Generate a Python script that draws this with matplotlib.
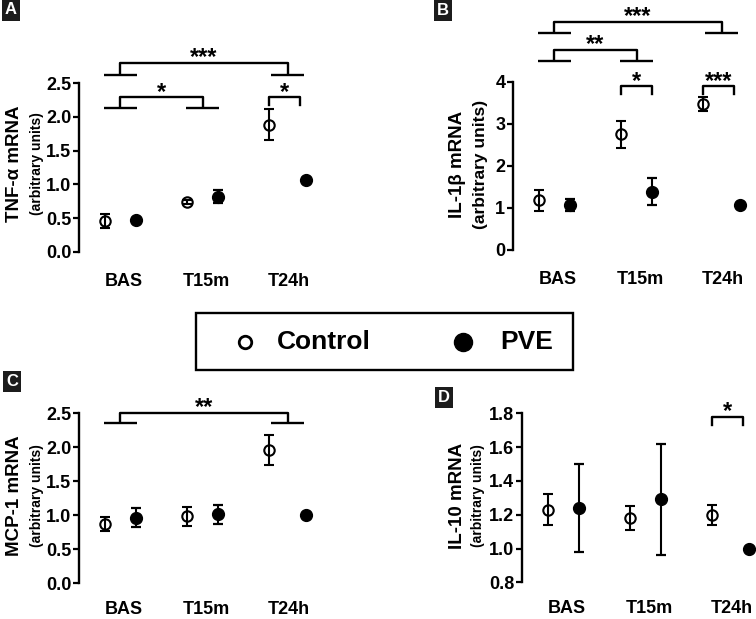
import matplotlib
matplotlib.use('Agg')
import matplotlib.pyplot as plt
from matplotlib.lines import Line2D
from matplotlib.patches import Rectangle

plt.rcParams['font.family'] = ['Liberation Sans', 'DejaVu Sans']
plt.rcParams['font.weight'] = 'bold'

W, H = 756, 619

groups = ['BAS', 'T15m', 'T24h']

# mean +/- error
tnf_ctrl = [0.46, 0.74, 1.88]
tnf_ctrl_err = [0.10, 0.03, 0.23]
tnf_pve = [0.47, 0.82, 1.07]
tnf_pve_err = [0.03, 0.09, 0.02]

il1b_ctrl = [1.18, 2.75, 3.48]
il1b_ctrl_err = [0.24, 0.31, 0.17]
il1b_pve = [1.07, 1.39, 1.08]
il1b_pve_err = [0.15, 0.33, 0.0]

mcp_ctrl = [0.87, 0.98, 1.96]
mcp_ctrl_err = [0.10, 0.14, 0.22]
mcp_pve = [0.96, 1.01, 1.00]
mcp_pve_err = [0.14, 0.14, 0.0]

il10_ctrl = [1.23, 1.18, 1.20]
il10_ctrl_err = [0.09, 0.07, 0.06]
il10_pve = [1.24, 1.29, 1.00]
il10_pve_err = [0.26, 0.33, 0.0]

CTRL_OFF = [-0.19, -0.19, -0.19]
PVE_OFF = [0.19, 0.19, 0.26]


def fx(px):
    return px / W


def fy(py):
    return 1 - py / H


def make_axes(fig, left, y0, ytop, xpad=15):
    ax = fig.add_axes([fx(left), fy(y0), 247 / W, (y0 - ytop) / H])
    for s in ['top', 'right', 'bottom']:
        ax.spines[s].set_visible(False)
    ax.spines['left'].set_linewidth(1.7)
    ax.set_xlim(-0.5, 2.5)
    ax.set_xticks([i + 0.05 for i in range(3)])
    ax.set_xticklabels(groups, fontsize=13, fontweight='bold')
    ax.tick_params(axis='x', length=0, pad=xpad)
    ax.tick_params(axis='y', length=4.5, width=1.6, pad=1, labelsize=13)
    return ax


def draw_points(ax, ctrl, ctrl_err, pve, pve_err):
    xc = [i + CTRL_OFF[i] for i in range(3)]
    xp = [i + PVE_OFF[i] for i in range(3)]
    ax.errorbar(xc, ctrl, yerr=ctrl_err, fmt='o', ms=7.5, mfc='none', mec='black',
                mew=1.5, ecolor='black', elinewidth=1.5, capsize=3.5, capthick=1.6,
                clip_on=False, zorder=3)
    ax.errorbar(xp, pve, yerr=pve_err, fmt='o', ms=8.5, mfc='black', mec='black',
                ecolor='black', elinewidth=1.5, capsize=3.5, capthick=1.6,
                clip_on=False, zorder=3)


def group_center(i):
    return i + (CTRL_OFF[i] + PVE_OFF[i]) / 2


def star_text(ax, x, y, label):
    ax.annotate(label, xy=(x, y), xytext=(0, -1), textcoords='offset points',
                ha='center', va='baseline', fontsize=17, fontweight='bold',
                annotation_clip=False)


def group_bracket(ax, g1, g2, yfoot, ytop, label):
    c1, c2 = group_center(g1), group_center(g2)
    kw = dict(color='black', lw=1.7, clip_on=False, solid_capstyle='butt')
    ax.plot([c1 - 0.2, c1 + 0.2], [yfoot, yfoot], **kw)
    ax.plot([c2 - 0.2, c2 + 0.2], [yfoot, yfoot], **kw)
    ax.plot([c1, c1, c2, c2], [yfoot, ytop, ytop, yfoot], **kw)
    star_text(ax, (c1 + c2) / 2, ytop, label)


def pair_bracket(ax, g, yleg, ytop, label):
    x1, x2 = g + CTRL_OFF[g], g + 0.19
    ax.plot([x1, x1, x2, x2], [yleg, ytop, ytop, yleg], color='black', lw=1.7,
            clip_on=False)
    star_text(ax, (x1 + x2) / 2, ytop, label)


def ylabels(fig, main, sub, xmain, xsub, ycen, subsize):
    fig.text(fx(xmain), fy(ycen), main, rotation=90, ha='center', va='center',
             fontsize=13.5, fontweight='bold')
    fig.text(fx(xsub), fy(ycen), sub, rotation=90, ha='center', va='center',
             fontsize=subsize, fontweight='bold')


def panel_letter(fig, x, y, letter):
    fig.text(fx(x), fy(y), letter, ha='center', va='center', color='white',
             fontsize=12, fontweight='bold',
             bbox=dict(boxstyle='square,pad=0.18', fc='#1c1c1c', ec='none'))


fig = plt.figure(figsize=(W / 100, H / 100), dpi=100)

# A: TNF-alpha
axA = make_axes(fig, 79, 252, 83)
axA.set_ylim(0, 2.5)
axA.set_yticks([0, 0.5, 1.0, 1.5, 2.0, 2.5])
axA.set_yticklabels(['0.0', '0.5', '1.0', '1.5', '2.0', '2.5'])
draw_points(axA, tnf_ctrl, tnf_ctrl_err, tnf_pve, tnf_pve_err)
group_bracket(axA, 0, 2, 2.62, 2.80, '***')
group_bracket(axA, 0, 1, 2.13, 2.29, '*')
pair_bracket(axA, 2, 2.17, 2.29, '*')
ylabels(fig, 'TNF-α mRNA', '(arbitrary units)', 15, 37, 164, 10)

# B: IL-1beta
axB = make_axes(fig, 513, 250, 82)
axB.set_ylim(0, 4)
axB.set_yticks([0, 1, 2, 3, 4])
draw_points(axB, il1b_ctrl, il1b_ctrl_err, il1b_pve, il1b_pve_err)
group_bracket(axB, 0, 2, 5.17, 5.43, '***')
group_bracket(axB, 0, 1, 4.50, 4.76, '**')
pair_bracket(axB, 1, 3.71, 3.90, '*')
pair_bracket(axB, 2, 3.71, 3.90, '***')
ylabels(fig, 'IL-1β mRNA', '(arbitrary units)', 458, 480, 164, 12.5)

# C: MCP-1
axC = make_axes(fig, 79, 583, 413, xpad=13)
axC.set_ylim(0, 2.5)
axC.set_yticks([0, 0.5, 1.0, 1.5, 2.0, 2.5])
axC.set_yticklabels(['0.0', '0.5', '1.0', '1.5', '2.0', '2.5'])
draw_points(axC, mcp_ctrl, mcp_ctrl_err, mcp_pve, mcp_pve_err)
group_bracket(axC, 0, 2, 2.35, 2.50, '**')
ylabels(fig, 'MCP-1 mRNA', '(arbitrary units)', 15, 37, 496, 10)

# D: IL-10
axD = make_axes(fig, 522, 582.3, 413.3, xpad=13)
axD.set_ylim(0.8, 1.8)
axD.set_yticks([0.8, 1.0, 1.2, 1.4, 1.6, 1.8])
axD.set_yticklabels(['0.8', '1.0', '1.2', '1.4', '1.6', '1.8'])
draw_points(axD, il10_ctrl, il10_ctrl_err, il10_pve, il10_pve_err)
pair_bracket(axD, 2, 1.73, 1.78, '*')
ylabels(fig, 'IL-10 mRNA', '(arbitrary units)', 457, 478, 496, 10)

# panel letters
panel_letter(fig, 10.5, 10, 'A')
panel_letter(fig, 443, 10.5, 'B')
panel_letter(fig, 12, 381, 'C')
panel_letter(fig, 443.5, 397, 'D')

# legend box
fig.add_artist(Rectangle((fx(196), fy(370)), 377 / W, 57 / H, transform=fig.transFigure,
                         fill=False, ec='black', lw=1.7))
fig.add_artist(Line2D([fx(245)], [fy(342)], transform=fig.transFigure, marker='o',
                      ms=9, mfc='white', mec='black', mew=2, ls='none'))
fig.add_artist(Line2D([fx(463)], [fy(342)], transform=fig.transFigure, marker='o',
                      ms=13, mfc='black', mec='black', ls='none'))
fig.text(fx(277), fy(342), 'Control', ha='left', va='center', fontsize=19, fontweight='bold')
fig.text(fx(500), fy(342), 'PVE', ha='left', va='center', fontsize=19, fontweight='bold')

fig.savefig('out.png', dpi=100)
